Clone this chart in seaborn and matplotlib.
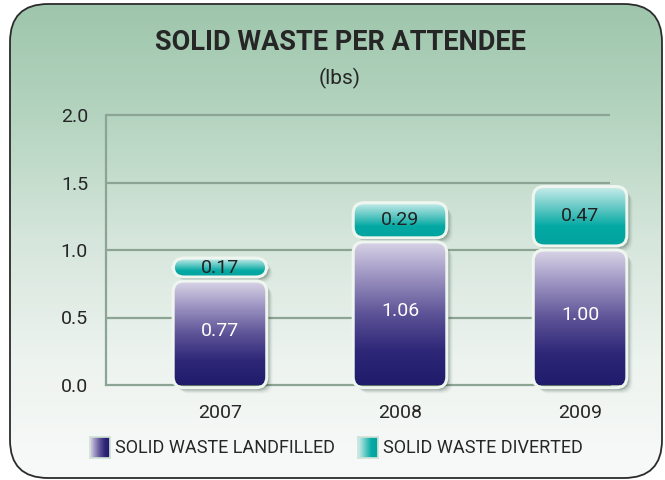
import matplotlib
matplotlib.use("Agg")
import matplotlib.pyplot as plt
import seaborn as sns
import numpy as np
from matplotlib.patches import FancyBboxPatch
from matplotlib.colors import LinearSegmentedColormap

years = ["2007", "2008", "2009"]
landfilled = [0.77, 1.06, 1.00]
diverted = [0.17, 0.29, 0.47]
series_names = ["SOLID WASTE LANDFILLED", "SOLID WASTE DIVERTED"]
y_ticks = [0.0, 0.5, 1.0, 1.5, 2.0]

sns.set_theme(style="white")
plt.rcParams["font.family"] = ["Roboto", "DejaVu Sans"]

cmap_land = LinearSegmentedColormap.from_list(
    "land", ["#d9d4e7", "#9a91c0", "#5c5296", "#2e2778", "#1f1a6a"])
cmap_div = LinearSegmentedColormap.from_list(
    "div", ["#cdeeed", "#6cccc8", "#05a9a4", "#00a29d"])
cmap_bg = LinearSegmentedColormap.from_list(
    "bg", ["#9ec6ac", "#b6d5c1", "#d6e6dc", "#edf3ef", "#f8faf9"])

W, H = 665, 480
fig = plt.figure(figsize=(W / 100, H / 100), dpi=100)
fig.patch.set_facecolor("white")

# rounded green panel behind everything
bg = fig.add_axes([0, 0, 1, 1], zorder=-5)
bg.set_xlim(0, W)
bg.set_ylim(H, 0)
bg.axis("off")
frame = FancyBboxPatch((10, 4), 652, 474, boxstyle="round,pad=0,rounding_size=38",
                       facecolor="none", edgecolor="#2b2b2b", lw=1.3, zorder=3)
bg.add_patch(frame)
grad = np.linspace(0, 1, 256).reshape(-1, 1)
im = bg.imshow(grad, cmap=cmap_bg, extent=[10, 662, 478, 4], aspect="auto", zorder=1)
im.set_clip_path(frame)

fig.text(340 / W, 1 - 43 / H, "SOLID WASTE PER ATTENDEE", ha="center", va="center",
         fontsize=19.5, fontweight="bold", color="#262626")
fig.text(340 / W, 1 - 78 / H, "(lbs)", ha="center", va="center",
         fontsize=15, color="#262626")

# axes runs a bit past the grid so the last bar is not cut off
ax = fig.add_axes([106 / W, (H - 385) / H, (640 - 106) / W, (385 - 115) / H])
ax.patch.set_alpha(0)
x_left, x_grid_end, x_right = -0.633, 2.167, 2.333

totals = [a + b for a, b in zip(landfilled, diverted)]
sns.barplot(x=years, y=totals, ax=ax, width=0.52, color="#00a29d")
sns.barplot(x=years, y=landfilled, ax=ax, width=0.52, color="#2e2778")
n = len(years)
top_bars = list(ax.patches[:n])
base_bars = list(ax.patches[n:2 * n])

px_x, px_y = 180.0, 135.0  # pixels per data unit
aspect = px_x / px_y
gap = 0.03


def fancy_bar(x0, y0, w, h, cmap, z):
    # soft shadow to the lower right
    for k, a in enumerate([0.16, 0.12, 0.08, 0.05, 0.03]):
        off = (k + 2) / px_x
        sh = FancyBboxPatch((x0 + off, y0 - off * aspect), w, h,
                            boxstyle="round,pad=0,rounding_size=0.06",
                            mutation_aspect=aspect, facecolor="#1f3a2a",
                            edgecolor="none", alpha=a, zorder=z - 1, clip_on=False)
        ax.add_patch(sh)
    box = FancyBboxPatch((x0, y0), w, h, boxstyle="round,pad=0,rounding_size=0.06",
                         mutation_aspect=aspect, facecolor="none",
                         edgecolor="#eef6ef", lw=2.2, zorder=z + 1, clip_on=False)
    ax.add_patch(box)
    g = ax.imshow(np.linspace(0, 1, 256).reshape(-1, 1), cmap=cmap,
                  aspect="auto", zorder=z, origin="upper")
    g.set_extent([x0, x0 + w, y0, y0 + h])
    g.set_clip_path(box)


for i in range(n):
    b = base_bars[i]
    t = top_bars[i]
    x0, w = b.get_x(), b.get_width()
    lv = b.get_height()
    tv = t.get_height()
    b.set_visible(False)
    t.set_visible(False)
    fancy_bar(x0, -0.02, w, lv + 0.02, cmap_land, 4)
    fancy_bar(x0, lv + gap, w, tv - lv - gap, cmap_div, 4)
    ax.text(x0 + w / 2, lv * 0.52, f"{landfilled[i]:.2f}", ha="center", va="center",
            color="white", fontsize=14, zorder=8)
    ax.text(x0 + w / 2, (lv + gap + tv) / 2, f"{diverted[i]:.2f}", ha="center",
            va="center", color="#222222", fontsize=14, zorder=8)

ax.set_xlim(x_left, x_right)
ax.set_ylim(0, 2.0)
ax.set_yticks(y_ticks)
ax.set_yticklabels([f"{v:.1f}" for v in y_ticks])
ax.hlines(y_ticks[1:], x_left, x_grid_end, color="#8ba494", lw=1.6, zorder=1,
          clip_on=False)
for s in ["top", "right"]:
    ax.spines[s].set_visible(False)
for s in ["left", "bottom"]:
    ax.spines[s].set_color("#8ba494")
    ax.spines[s].set_linewidth(1.6)
ax.spines["bottom"].set_bounds(x_left, x_grid_end)
ax.tick_params(axis="both", length=0, labelsize=14, colors="#262626")
ax.tick_params(axis="y", pad=13)
ax.tick_params(axis="x", pad=14)
ax.set_xlabel("")
ax.set_ylabel("")

# legend
leg = [(90, cmap_land, series_names[0]), (358, cmap_div, series_names[1])]
for lx, cm, name in leg:
    la = fig.add_axes([lx / W, (H - 458) / H, 20 / W, 21 / H])
    la.imshow(np.linspace(0, 0.85, 64).reshape(1, -1), cmap=cm, aspect="auto")
    la.set_xticks([])
    la.set_yticks([])
    for s in la.spines.values():
        s.set_color("#cfe3d6")
    fig.text((lx + 25) / W, 1 - 448 / H, name, ha="left", va="center",
             fontsize=13, color="#262626")

fig.savefig("out.png", dpi=100)
